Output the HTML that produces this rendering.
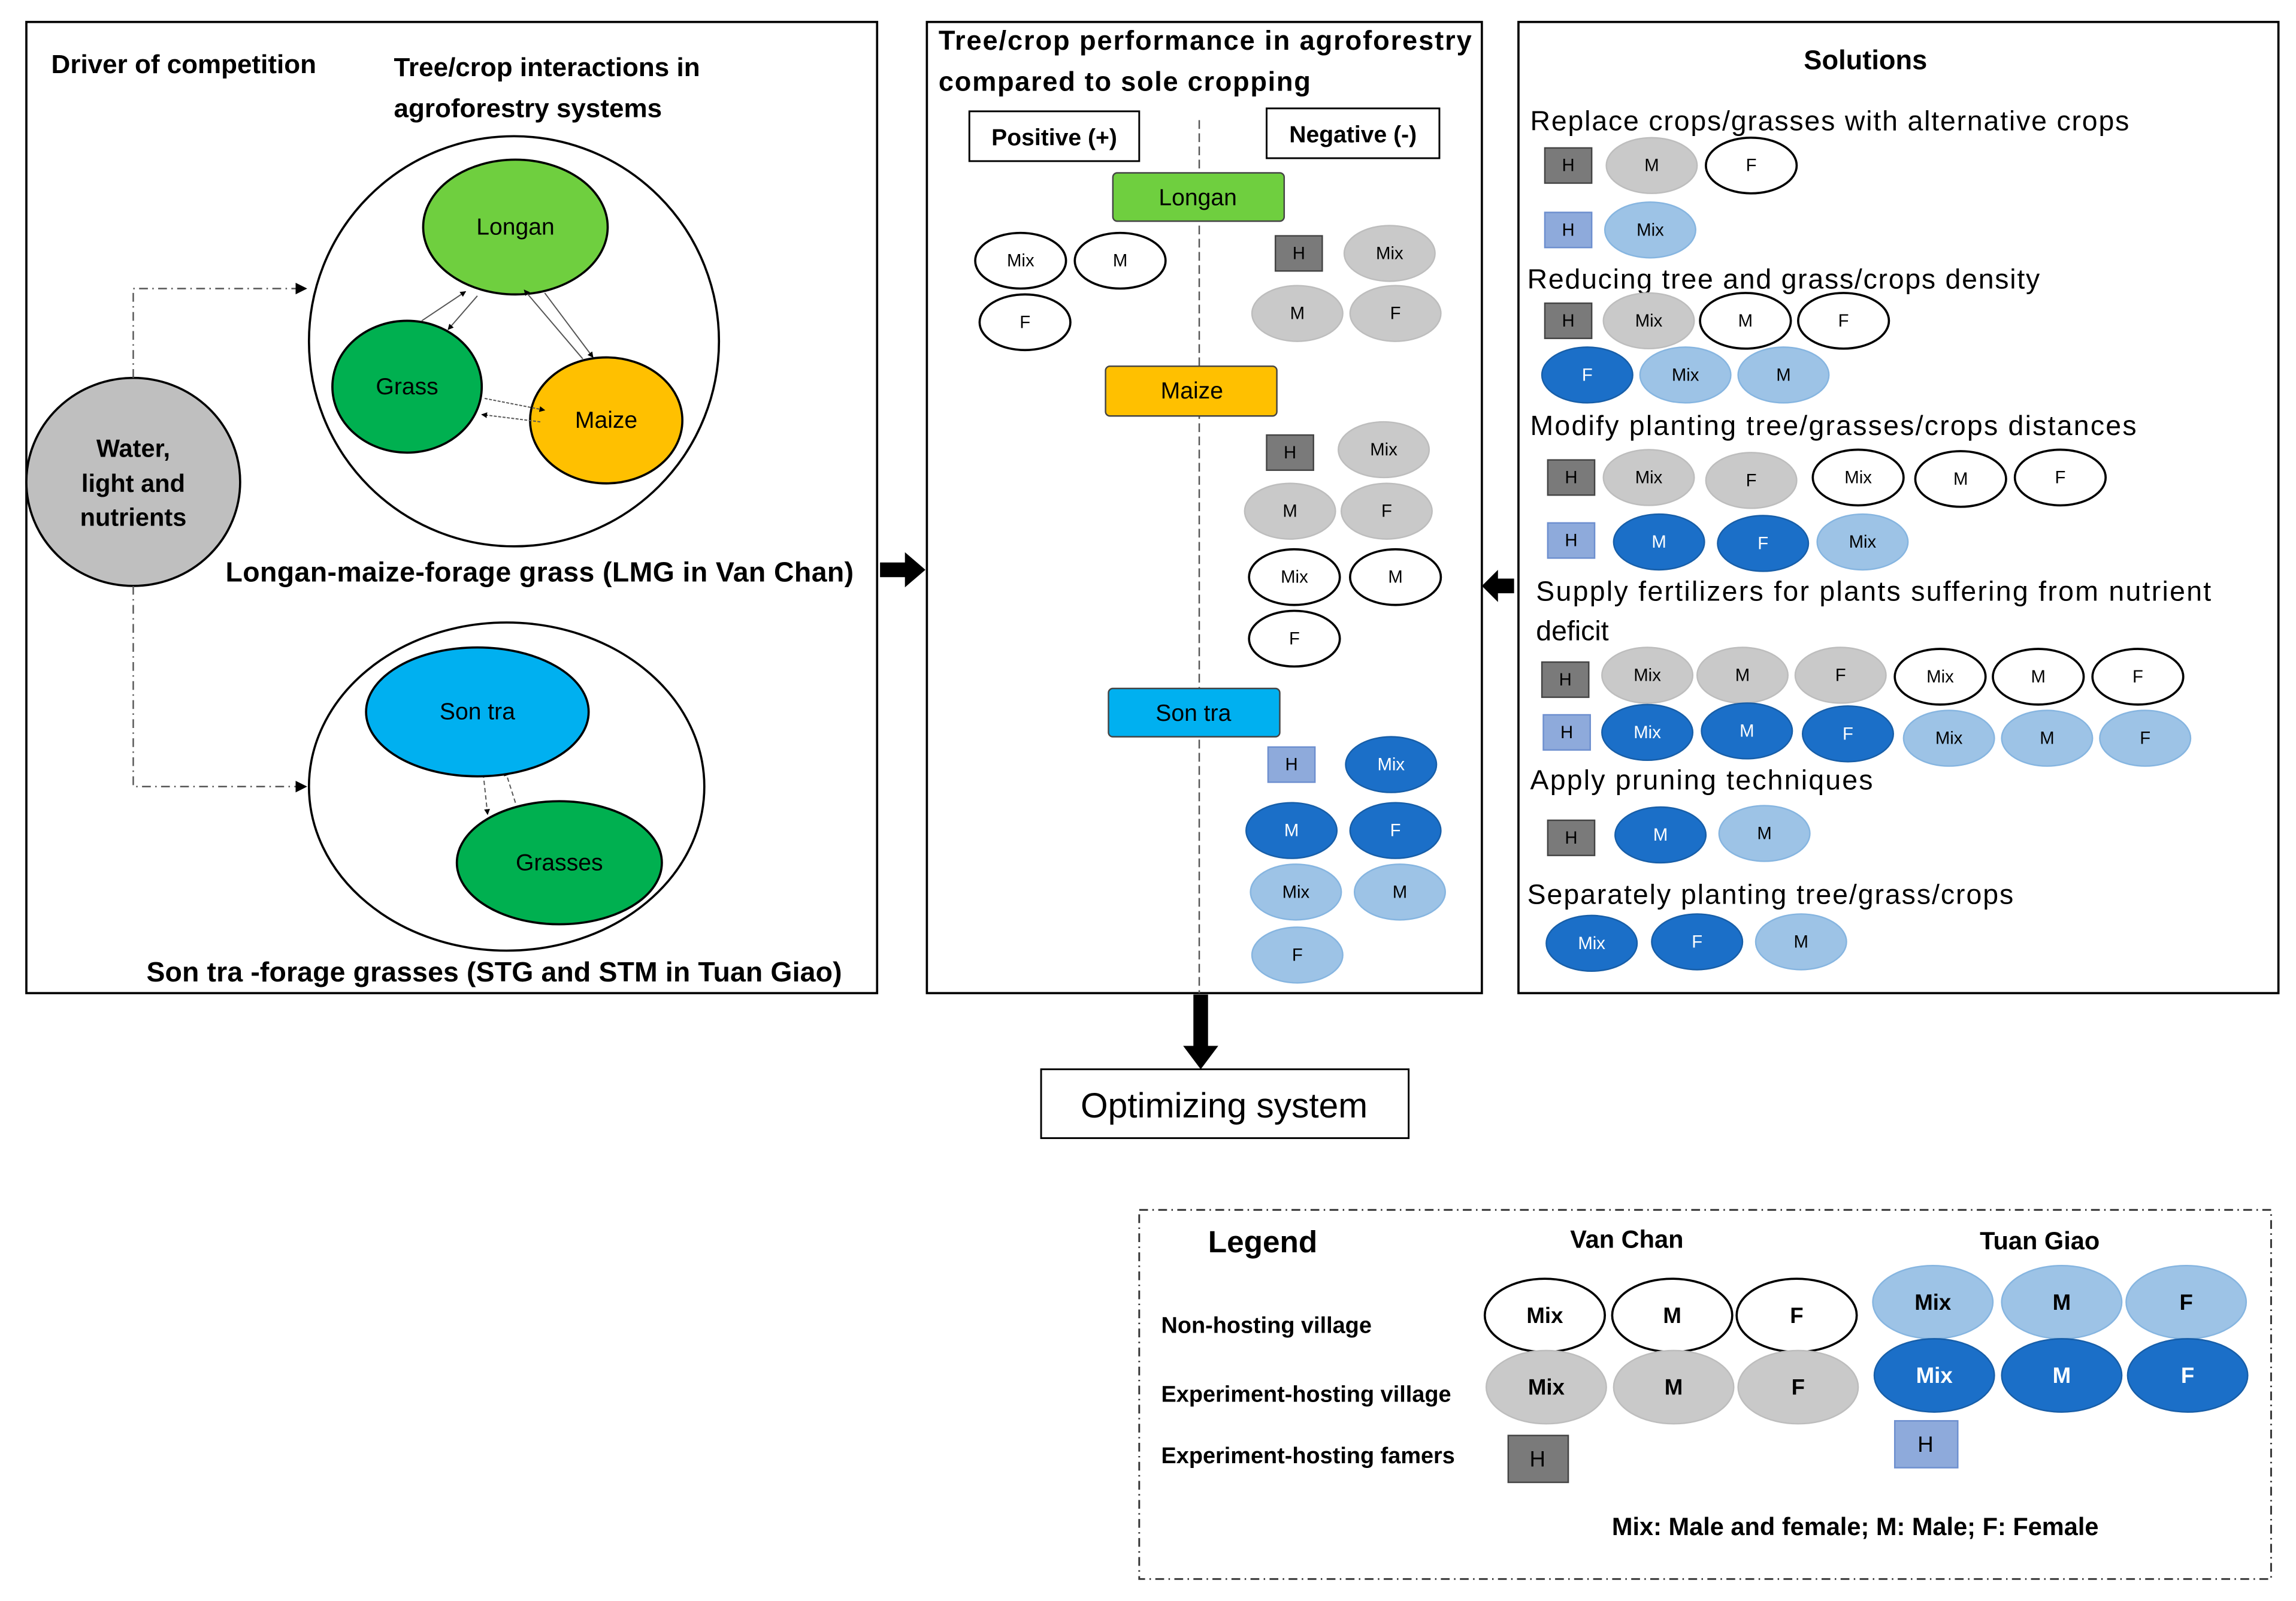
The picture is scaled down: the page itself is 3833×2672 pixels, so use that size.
<!DOCTYPE html>
<html><head><meta charset="utf-8"><style>
html,body{margin:0;padding:0;background:#fff}
svg{display:block}
text{font-family:"Liberation Sans",sans-serif;fill:#000}
.w{fill:#fff;stroke:#000;stroke-width:1.5}
.g{fill:#c9c9c9;stroke:#bdbdbd;stroke-width:1}
.l{fill:#9dc3e6;stroke:#86b5e0;stroke-width:1}
.d{fill:#1b6fc8;stroke:#175ea8;stroke-width:1}
.hg{fill:#7a7a7a;stroke:#444;stroke-width:1}
.hb{fill:#8eaadb;stroke:#6d8fcf;stroke-width:1}
.s{text-anchor:middle;dominant-baseline:central}
.sw{text-anchor:middle;dominant-baseline:central;fill:#fff}
.b{font-weight:bold}
</style></head><body>
<svg width="3833" height="2672" viewBox="0 0 1568 1093" preserveAspectRatio="none" xmlns="http://www.w3.org/2000/svg" font-size="12">
<defs>
<marker id="a" viewBox="0 0 10 10" refX="9" refY="5" markerWidth="8" markerHeight="8" orient="auto"><path d="M0,0L10,5L0,10z" fill="#000"/></marker>
<marker id="a2" viewBox="0 0 10 10" refX="9" refY="5" markerWidth="5" markerHeight="5" orient="auto"><path d="M0,0L10,5L0,10z" fill="#000"/></marker>
</defs>
<!-- Left panel -->
<rect x="18" y="15" width="581" height="663" fill="none" stroke="#000" stroke-width="1.5"/>
<text x="35" y="50" class="b" font-size="18">Driver of competition</text>
<text x="269" y="52" class="b" font-size="18">Tree/crop interactions in</text>
<text x="269" y="80" class="b" font-size="18">agroforestry systems</text>
<ellipse cx="351" cy="233" rx="140" ry="140" fill="none" stroke="#000" stroke-width="1.5"/>
<ellipse cx="352" cy="155" rx="63" ry="46" fill="#6fcf3f" stroke="#000" stroke-width="1.5"/>
<text x="352" y="155" class="s" font-size="16">Longan</text>
<ellipse cx="278" cy="264" rx="51" ry="45" fill="#00b050" stroke="#000" stroke-width="1.5"/>
<text x="278" y="264" class="s" font-size="16">Grass</text>
<ellipse cx="414" cy="287" rx="52" ry="43" fill="#ffc000" stroke="#000" stroke-width="1.5"/>
<text x="414" y="287" class="s" font-size="16">Maize</text>
<g stroke="#555" stroke-width="0.8" fill="none">
<line x1="288" y1="219" x2="318" y2="199" marker-end="url(#a2)"/>
<line x1="326" y1="202" x2="306" y2="225" marker-end="url(#a2)"/>
<line x1="398" y1="245" x2="358" y2="198" marker-end="url(#a2)"/>
<line x1="372" y1="200" x2="405" y2="244" marker-end="url(#a2)"/>
<line x1="331" y1="272" x2="372" y2="280" marker-end="url(#a2)" stroke-dasharray="2,1"/>
<line x1="369" y1="288" x2="329" y2="283" marker-end="url(#a2)" stroke-dasharray="2,1"/>
<line x1="330" y1="528" x2="333" y2="556" marker-end="url(#a2)" stroke-dasharray="3,2"/>
<line x1="352" y1="548" x2="345" y2="526" marker-end="url(#a2)" stroke-dasharray="3,2"/>
</g>
<ellipse cx="91" cy="329" rx="73" ry="71" fill="#bfbfbf" stroke="#000" stroke-width="1.5"/>
<text x="91" y="306" class="s b" font-size="17">Water,</text>
<text x="91" y="330" class="s b" font-size="17">light and</text>
<text x="91" y="353" class="s b" font-size="17">nutrients</text>
<g stroke="#555" stroke-width="1" fill="none" stroke-dasharray="6,3,1,3">
<polyline points="91,258 91,197 209,197" marker-end="url(#a)"/>
<polyline points="91,400 91,537 209,537" marker-end="url(#a)"/>
</g>
<text x="154" y="397" class="b" font-size="19" textLength="429">Longan-maize-forage grass (LMG in Van Chan)</text>
<ellipse cx="346" cy="537" rx="135" ry="112" fill="none" stroke="#000" stroke-width="1.5"/>
<ellipse cx="326" cy="486" rx="76" ry="44" fill="#00b0f0" stroke="#000" stroke-width="1.5"/>
<text x="326" y="486" class="s" font-size="16">Son tra</text>
<ellipse cx="382" cy="589" rx="70" ry="42" fill="#00b050" stroke="#000" stroke-width="1.5"/>
<text x="382" y="589" class="s" font-size="16">Grasses</text>
<text x="100" y="670" class="b" font-size="19" textLength="475">Son tra -forage grasses (STG and STM in Tuan Giao)</text>
<path d="M601,384 L618,384 L618,377 L632,389 L618,401 L618,394 L601,394z" fill="#000"/>
<!-- Middle panel -->
<rect x="633" y="15" width="379" height="663" fill="none" stroke="#000" stroke-width="1.5"/>
<text x="641" y="34" class="b" font-size="18.5" textLength="364">Tree/crop performance in agroforestry</text>
<text x="641" y="62" class="b" font-size="18.5" textLength="254">compared to sole cropping</text>
<rect x="662" y="76" width="116" height="34" fill="#fff" stroke="#000" stroke-width="1.2"/>
<text x="720" y="94" class="s b" font-size="16">Positive (+)</text>
<rect x="865" y="74" width="118" height="34" fill="#fff" stroke="#000" stroke-width="1.2"/>
<text x="924" y="92" class="s b" font-size="16">Negative (-)</text>
<line x1="819" y1="82" x2="819" y2="678" stroke="#555" stroke-dasharray="6,3"/>
<rect x="760" y="118" width="117" height="33" rx="3" fill="#6fcf3f" stroke="#444"/>
<text x="818" y="135" class="s" font-size="16">Longan</text>
<ellipse cx="697" cy="178" rx="31" ry="19" class="w"/><text x="697" y="178" class="s">Mix</text>
<ellipse cx="765" cy="178" rx="31" ry="19" class="w"/><text x="765" y="178" class="s">M</text>
<ellipse cx="700" cy="220" rx="31" ry="19" class="w"/><text x="700" y="220" class="s">F</text>
<rect x="871" y="161" width="32" height="24" class="hg"/><text x="887" y="173" class="s">H</text>
<ellipse cx="949" cy="173" rx="31" ry="19" class="g"/><text x="949" y="173" class="s">Mix</text>
<ellipse cx="886" cy="214" rx="31" ry="19" class="g"/><text x="886" y="214" class="s">M</text>
<ellipse cx="953" cy="214" rx="31" ry="19" class="g"/><text x="953" y="214" class="s">F</text>
<rect x="755" y="250" width="117" height="34" rx="3" fill="#ffc000" stroke="#444"/>
<text x="814" y="267" class="s" font-size="16">Maize</text>
<rect x="865" y="297" width="32" height="24" class="hg"/><text x="881" y="309" class="s">H</text>
<ellipse cx="945" cy="307" rx="31" ry="19" class="g"/><text x="945" y="307" class="s">Mix</text>
<ellipse cx="881" cy="349" rx="31" ry="19" class="g"/><text x="881" y="349" class="s">M</text>
<ellipse cx="947" cy="349" rx="31" ry="19" class="g"/><text x="947" y="349" class="s">F</text>
<ellipse cx="884" cy="394" rx="31" ry="19" class="w"/><text x="884" y="394" class="s">Mix</text>
<ellipse cx="953" cy="394" rx="31" ry="19" class="w"/><text x="953" y="394" class="s">M</text>
<ellipse cx="884" cy="436" rx="31" ry="19" class="w"/><text x="884" y="436" class="s">F</text>
<rect x="757" y="470" width="117" height="33" rx="3" fill="#00b0f0" stroke="#444"/>
<text x="815" y="487" class="s" font-size="16">Son tra</text>
<rect x="866" y="510" width="32" height="24" class="hb"/><text x="882" y="522" class="s">H</text>
<ellipse cx="950" cy="522" rx="31" ry="19" class="d"/><text x="950" y="522" class="sw">Mix</text>
<ellipse cx="882" cy="567" rx="31" ry="19" class="d"/><text x="882" y="567" class="sw">M</text>
<ellipse cx="953" cy="567" rx="31" ry="19" class="d"/><text x="953" y="567" class="sw">F</text>
<ellipse cx="885" cy="609" rx="31" ry="19" class="l"/><text x="885" y="609" class="s">Mix</text>
<ellipse cx="956" cy="609" rx="31" ry="19" class="l"/><text x="956" y="609" class="s">M</text>
<ellipse cx="886" cy="652" rx="31" ry="19" class="l"/><text x="886" y="652" class="s">F</text>
<path d="M815,679 L825,679 L825,714 L832,714 L820,730 L808,714 L815,714z" fill="#000"/>
<rect x="711" y="730" width="251" height="47" fill="#fff" stroke="#000" stroke-width="1.2"/>
<text x="836" y="755" class="s" font-size="24">Optimizing system</text>
<path d="M1034,395 L1023,395 L1023,389 L1012,400 L1023,411 L1023,405 L1034,405z" fill="#000"/>
<!-- Right panel -->
<rect x="1037" y="15" width="519" height="663" fill="none" stroke="#000" stroke-width="1.5"/>
<text x="1274" y="41" class="s b" font-size="18.5">Solutions</text>
<g font-size="19">
<text x="1045" y="89" textLength="409">Replace crops/grasses with alternative crops</text>
<text x="1043" y="197" textLength="350">Reducing tree and grass/crops density</text>
<text x="1045" y="297" textLength="414">Modify planting tree/grasses/crops distances</text>
<text x="1049" y="410" textLength="461">Supply fertilizers for plants suffering from nutrient</text>
<text x="1049" y="437">deficit</text>
<text x="1045" y="539" textLength="234">Apply pruning techniques</text>
<text x="1043" y="617" textLength="332">Separately planting tree/grass/crops</text>
</g>
<rect x="1055" y="101" width="32" height="24" class="hg"/><text x="1071" y="113" class="s">H</text>
<ellipse cx="1128" cy="113" rx="31" ry="19" class="g"/><text x="1128" y="113" class="s">M</text>
<ellipse cx="1196" cy="113" rx="31" ry="19" class="w"/><text x="1196" y="113" class="s">F</text>
<rect x="1055" y="145" width="32" height="24" class="hb"/><text x="1071" y="157" class="s">H</text>
<ellipse cx="1127" cy="157" rx="31" ry="19" class="l"/><text x="1127" y="157" class="s">Mix</text>
<rect x="1055" y="207" width="32" height="24" class="hg"/><text x="1071" y="219" class="s">H</text>
<ellipse cx="1126" cy="219" rx="31" ry="19" class="g"/><text x="1126" y="219" class="s">Mix</text>
<ellipse cx="1192" cy="219" rx="31" ry="19" class="w"/><text x="1192" y="219" class="s">M</text>
<ellipse cx="1259" cy="219" rx="31" ry="19" class="w"/><text x="1259" y="219" class="s">F</text>
<ellipse cx="1084" cy="256" rx="31" ry="19" class="d"/><text x="1084" y="256" class="sw">F</text>
<ellipse cx="1151" cy="256" rx="31" ry="19" class="l"/><text x="1151" y="256" class="s">Mix</text>
<ellipse cx="1218" cy="256" rx="31" ry="19" class="l"/><text x="1218" y="256" class="s">M</text>
<rect x="1057" y="314" width="32" height="24" class="hg"/><text x="1073" y="326" class="s">H</text>
<ellipse cx="1126" cy="326" rx="31" ry="19" class="g"/><text x="1126" y="326" class="s">Mix</text>
<ellipse cx="1196" cy="328" rx="31" ry="19" class="g"/><text x="1196" y="328" class="s">F</text>
<ellipse cx="1269" cy="326" rx="31" ry="19" class="w"/><text x="1269" y="326" class="s">Mix</text>
<ellipse cx="1339" cy="327" rx="31" ry="19" class="w"/><text x="1339" y="327" class="s">M</text>
<ellipse cx="1407" cy="326" rx="31" ry="19" class="w"/><text x="1407" y="326" class="s">F</text>
<rect x="1057" y="357" width="32" height="24" class="hb"/><text x="1073" y="369" class="s">H</text>
<ellipse cx="1133" cy="370" rx="31" ry="19" class="d"/><text x="1133" y="370" class="sw">M</text>
<ellipse cx="1204" cy="371" rx="31" ry="19" class="d"/><text x="1204" y="371" class="sw">F</text>
<ellipse cx="1272" cy="370" rx="31" ry="19" class="l"/><text x="1272" y="370" class="s">Mix</text>
<rect x="1053" y="452" width="32" height="24" class="hg"/><text x="1069" y="464" class="s">H</text>
<ellipse cx="1125" cy="461" rx="31" ry="19" class="g"/><text x="1125" y="461" class="s">Mix</text>
<ellipse cx="1190" cy="461" rx="31" ry="19" class="g"/><text x="1190" y="461" class="s">M</text>
<ellipse cx="1257" cy="461" rx="31" ry="19" class="g"/><text x="1257" y="461" class="s">F</text>
<ellipse cx="1325" cy="462" rx="31" ry="19" class="w"/><text x="1325" y="462" class="s">Mix</text>
<ellipse cx="1392" cy="462" rx="31" ry="19" class="w"/><text x="1392" y="462" class="s">M</text>
<ellipse cx="1460" cy="462" rx="31" ry="19" class="w"/><text x="1460" y="462" class="s">F</text>
<rect x="1054" y="488" width="32" height="24" class="hb"/><text x="1070" y="500" class="s">H</text>
<ellipse cx="1125" cy="500" rx="31" ry="19" class="d"/><text x="1125" y="500" class="sw">Mix</text>
<ellipse cx="1193" cy="499" rx="31" ry="19" class="d"/><text x="1193" y="499" class="sw">M</text>
<ellipse cx="1262" cy="501" rx="31" ry="19" class="d"/><text x="1262" y="501" class="sw">F</text>
<ellipse cx="1331" cy="504" rx="31" ry="19" class="l"/><text x="1331" y="504" class="s">Mix</text>
<ellipse cx="1398" cy="504" rx="31" ry="19" class="l"/><text x="1398" y="504" class="s">M</text>
<ellipse cx="1465" cy="504" rx="31" ry="19" class="l"/><text x="1465" y="504" class="s">F</text>
<rect x="1057" y="560" width="32" height="24" class="hg"/><text x="1073" y="572" class="s">H</text>
<ellipse cx="1134" cy="570" rx="31" ry="19" class="d"/><text x="1134" y="570" class="sw">M</text>
<ellipse cx="1205" cy="569" rx="31" ry="19" class="l"/><text x="1205" y="569" class="s">M</text>
<ellipse cx="1087" cy="644" rx="31" ry="19" class="d"/><text x="1087" y="644" class="sw">Mix</text>
<ellipse cx="1159" cy="643" rx="31" ry="19" class="d"/><text x="1159" y="643" class="sw">F</text>
<ellipse cx="1230" cy="643" rx="31" ry="19" class="l"/><text x="1230" y="643" class="s">M</text>
<!-- Legend -->
<rect x="778" y="826" width="773" height="252" fill="none" stroke="#333" stroke-width="1.2" stroke-dasharray="6,3,1,3"/>
<text x="825" y="855" class="b" font-size="21">Legend</text>
<text x="1111" y="846" class="s b" font-size="17">Van Chan</text>
<text x="1393" y="847" class="s b" font-size="17">Tuan Giao</text>
<text x="793" y="910" class="b" font-size="15.5">Non-hosting village</text>
<text x="793" y="957" class="b" font-size="15.5">Experiment-hosting village</text>
<text x="793" y="999" class="b" font-size="15.5">Experiment-hosting famers</text>
<ellipse cx="1055" cy="898" rx="41" ry="25" class="w"/><text x="1055" y="898" class="s b" font-size="15">Mix</text>
<ellipse cx="1142" cy="898" rx="41" ry="25" class="w"/><text x="1142" y="898" class="s b" font-size="15">M</text>
<ellipse cx="1227" cy="898" rx="41" ry="25" class="w"/><text x="1227" y="898" class="s b" font-size="15">F</text>
<ellipse cx="1320" cy="889" rx="41" ry="25" class="l"/><text x="1320" y="889" class="s b" font-size="15">Mix</text>
<ellipse cx="1408" cy="889" rx="41" ry="25" class="l"/><text x="1408" y="889" class="s b" font-size="15">M</text>
<ellipse cx="1493" cy="889" rx="41" ry="25" class="l"/><text x="1493" y="889" class="s b" font-size="15">F</text>
<ellipse cx="1056" cy="947" rx="41" ry="25" class="g"/><text x="1056" y="947" class="s b" font-size="15">Mix</text>
<ellipse cx="1143" cy="947" rx="41" ry="25" class="g"/><text x="1143" y="947" class="s b" font-size="15">M</text>
<ellipse cx="1228" cy="947" rx="41" ry="25" class="g"/><text x="1228" y="947" class="s b" font-size="15">F</text>
<ellipse cx="1321" cy="939" rx="41" ry="25" class="d"/><text x="1321" y="939" class="sw b" font-size="15">Mix</text>
<ellipse cx="1408" cy="939" rx="41" ry="25" class="d"/><text x="1408" y="939" class="sw b" font-size="15">M</text>
<ellipse cx="1494" cy="939" rx="41" ry="25" class="d"/><text x="1494" y="939" class="sw b" font-size="15">F</text>
<rect x="1030" y="980" width="41" height="32" class="hg"/><text x="1050" y="996" class="s" font-size="15">H</text>
<rect x="1294" y="970" width="43" height="32" class="hb"/><text x="1315" y="986" class="s" font-size="15">H</text>
<text x="1267" y="1042" class="s b" font-size="17">Mix: Male and female; M: Male; F: Female</text>
</svg>
</body></html>
